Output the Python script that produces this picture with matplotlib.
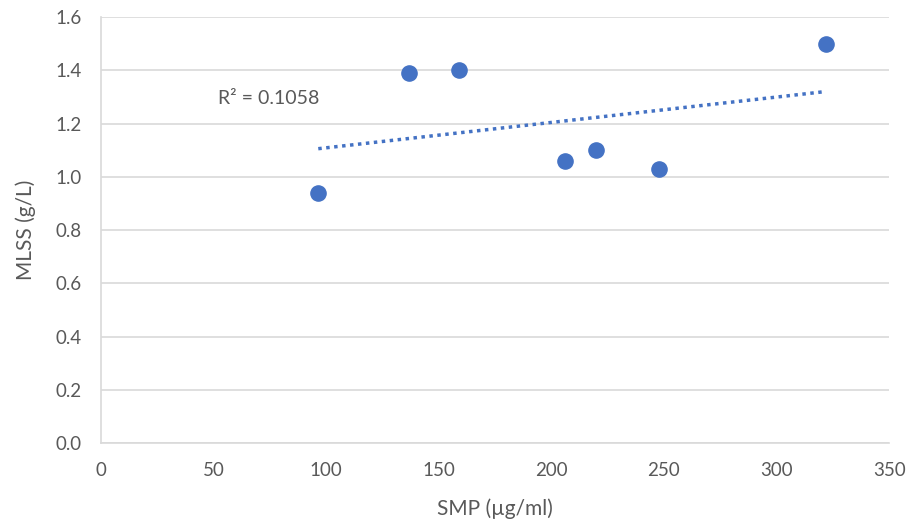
import matplotlib.pyplot as plt
import numpy as np

plt.rcParams['font.family'] = ['Lato', 'DejaVu Sans']

# 数据
smp = [96.5, 137, 159, 206, 220, 248, 322]
mlss = [0.94, 1.39, 1.40, 1.06, 1.10, 1.03, 1.50]
x_ticks = [0, 50, 100, 150, 200, 250, 300, 350]
y_ticks = [0.0, 0.2, 0.4, 0.6, 0.8, 1.0, 1.2, 1.4, 1.6]

txt = '#595959'
blue = '#4472C4'

fig = plt.figure(figsize=(9.08, 5.31), dpi=100)
ax = fig.add_axes([0.1112, 0.1657, 0.868, 0.802])

ax.scatter(smp, mlss, s=120, color=blue, zorder=3)

# 线性趋势线
k, b = np.polyfit(smp, mlss, 1)
xs = np.array([min(smp), max(smp)])
ax.plot(xs, k * xs + b, color=blue, linestyle=(0, (1, 1.3)), linewidth=2.5, zorder=2)
ax.text(52, 1.275, 'R² = 0.1058', fontsize=14, color=txt)

ax.set_xlim(0, 350)
ax.set_ylim(0, 1.6)
ax.set_xticks(x_ticks)
ax.set_yticks(y_ticks)
ax.set_yticklabels(['%.1f' % v for v in y_ticks])
ax.tick_params(axis='x', length=0, labelsize=13.5, colors=txt, pad=14)
ax.tick_params(axis='y', length=0, labelsize=13.5, colors=txt, pad=14)
ax.grid(axis='y', color='#D9D9D9', linewidth=1.2)
ax.set_axisbelow(True)
for s in ['top', 'right']:
    ax.spines[s].set_visible(False)
for s in ['left', 'bottom']:
    ax.spines[s].set_color('#D9D9D9')
    ax.spines[s].set_linewidth(1.2)

ax.set_xlabel('SMP (µg/ml)', fontsize=15, color=txt, labelpad=14)
ax.set_ylabel('MLSS (g/L)', fontsize=15, color=txt, labelpad=14)

plt.savefig('out.png', dpi=100)
